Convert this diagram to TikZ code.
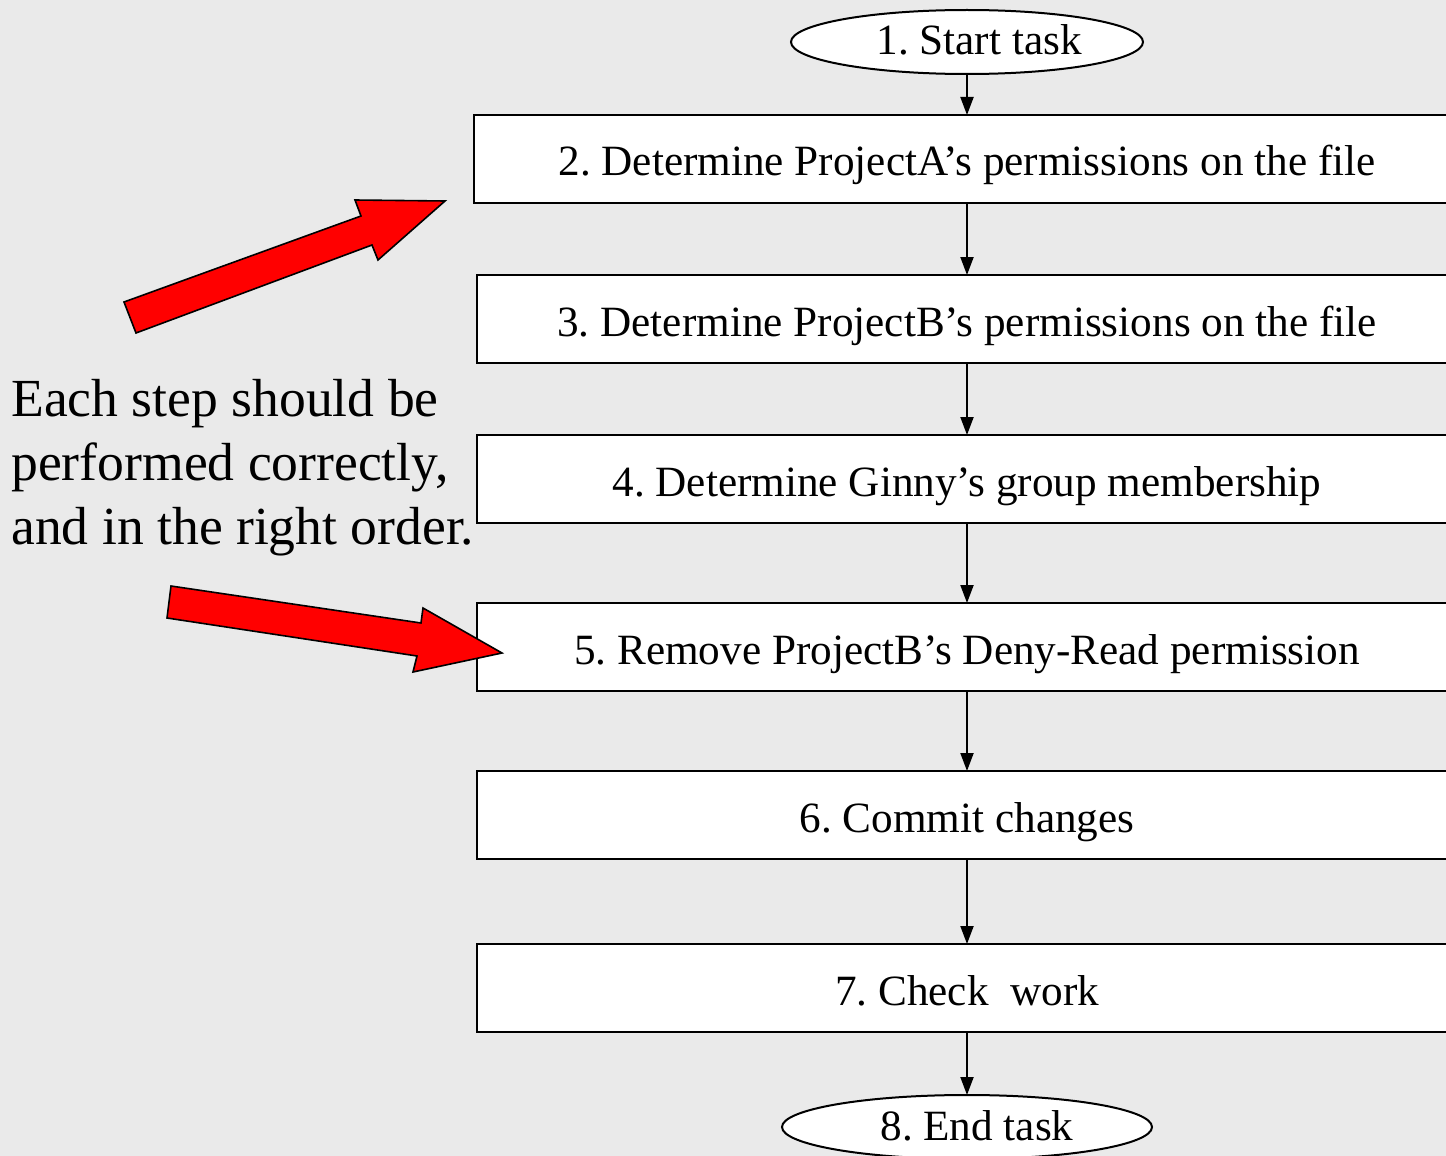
\documentclass[tikz,border=0pt]{standalone}
\usepackage{fontspec}
\setmainfont{Liberation Serif}
\usetikzlibrary{positioning,shapes.geometric,arrows.meta}
\definecolor{bggray}{HTML}{EAEAEA}
\definecolor{alertred}{HTML}{FF0000}
\frenchspacing
\tikzset{
  stepbox/.style = {draw, fill=white, line width=1pt, outer sep=0pt, minimum width=490pt, minimum height=44pt, inner sep=0pt, text height=22pt, text depth=5pt, font=\fontsize{21.6}{25}\selectfont},
  term/.style = {draw, ellipse, fill=white, line width=1pt, outer sep=0pt, inner sep=0pt, text height=14pt, text depth=1pt, font=\fontsize{21.6}{25}\selectfont},
  flow/.style = {line width=1pt, -{Triangle[length=9pt,width=6.5pt]}},
  bigarrow/.style = {draw, fill=alertred, line width=0.8pt, line join=miter}
}
\begin{document}
\begin{tikzpicture}[x=0.5pt, y=-0.5pt]
    \useasboundingbox (0,0) rectangle (1446,1156);
    \clip (0,0) rectangle (1446,1156);
    \fill[bggray] (0,0) rectangle (1446,1156);
    % flow chart
    \node[term, minimum width=176pt, minimum height=32pt] (start) at (967,42) {\hspace*{12pt}1. Start task};
    \node[stepbox, minimum width=493pt] (s2) [below=20.5pt of start] {2. Determine ProjectA’s permissions on the file};
    \node[stepbox] (s3) [below=36pt of s2] {3. Determine ProjectB’s permissions on the file};
    \node[stepbox] (s4) [below=36pt of s3] {4. Determine Ginny’s group membership};
    \node[stepbox] (s5) [below=40pt of s4] {5. Remove ProjectB’s Deny-Read permission};
    \node[stepbox] (s6) [below=40pt of s5] {6. Commit changes};
    \node[stepbox] (s7) [below=42.5pt of s6] {7. Check\ \ work};
    \node[term, minimum width=185pt, minimum height=32pt] (end) [below=31.5pt of s7] {\hspace*{10pt}8. End task};
    \draw[flow] (start) -- (s2);
    \draw[flow] (s2) -- (s3);
    \draw[flow] (s3) -- (s4);
    \draw[flow] (s4) -- (s5);
    \draw[flow] (s5) -- (s6);
    \draw[flow] (s6) -- (s7);
    \draw[flow] (s7) -- (end);
    % remark and red arrows
    \node[anchor=north west, align=left, inner sep=0pt, font=\fontsize{26.8}{32}\selectfont] (note) at (11,379)
        {Each step should be\\performed correctly,\\and in the right order.};
    \draw[bigarrow] (124,302) -- (361,216) -- (355,200) -- (445,201) -- (378,260) -- (372,245) -- (136,333) -- cycle;
    \draw[bigarrow] (171,586) -- (421,623) -- (423,608) -- (502,653) -- (413,672) -- (417,656) -- (167,618) -- cycle;
\end{tikzpicture}
\end{document}
